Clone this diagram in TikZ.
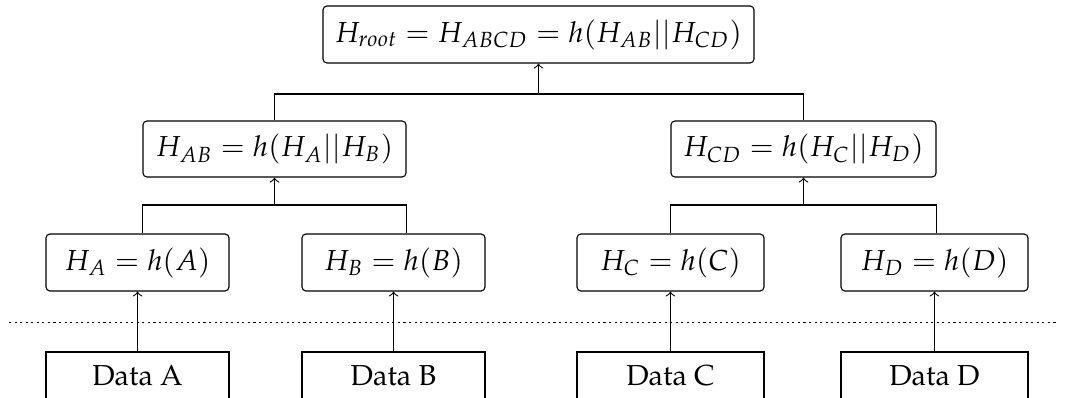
\documentclass[tikz,border=0pt]{standalone}
\usepackage[T1]{fontenc}
\usepackage{mathpazo}
\begin{document}
\begin{tikzpicture}[x=0.36pt,y=-0.36pt,
  font=\fontsize{10.4pt}{12.5pt}\selectfont,
  hashbox/.style={draw, rounded corners=1.4pt, inner sep=0pt, minimum height=20.5pt},
  databox/.style={draw, inner sep=0pt, minimum height=17.28pt},
  link/.style={->, line width=0.4pt},
  fork/.style={line width=0.4pt},
  sep/.style={line width=0.7pt, dash pattern=on 0.75pt off 1.25pt}]
\useasboundingbox (0,0) rectangle (1065,398);
% hash nodes
\node[hashbox, minimum width=155.16pt] (root) at (538.5,34.5) {$H_{root} = H_{ABCD} = h(H_{AB}||H_{CD})$};
\node[hashbox, minimum width=94.68pt, minimum height=20.16pt] (AB) at (274.5,149) {$H_{AB} = h(H_A||H_B)$};
\node[hashbox, minimum width=95.4pt, minimum height=20.16pt] (CD) at (803.5,149) {$H_{CD} = h(H_C||H_D)$};
\node[hashbox, minimum width=65.88pt] (A) at (137.5,262.5) {$H_A = h(A)$};
\node[hashbox, minimum width=65.88pt] (B) at (393.5,262.5) {$H_B = h(B)$};
\node[hashbox, minimum width=67.32pt] (C) at (670.5,262.5) {$H_C = h(C)$};
\node[hashbox, minimum width=67.32pt] (D) at (934.5,262.5) {$H_D = h(D)$};
% data nodes
\node[databox, minimum width=65.88pt] (dA) at (137.5,376) {Data A};
\node[databox, minimum width=65.88pt] (dB) at (393.5,376) {Data B};
\node[databox, minimum width=67.32pt] (dC) at (670.5,376) {Data C};
\node[databox, minimum width=67.32pt] (dD) at (934.5,376) {Data D};
% separator
\coordinate (sl) at (9,322.5);
\coordinate (sr) at (1057,322.5);
\draw[sep] (sl) -- (sr);
% data to leaf hashes
\draw[link] (dA.north) -- (A.south);
\draw[link] (dB.north) -- (B.south);
\draw[link] (dC.north) -- (C.south);
\draw[link] (dD.north) -- (D.south);
% forks
\coordinate (fAB) at (274.5,205);
\coordinate (fCD) at (803.5,205);
\coordinate (fR) at (538.5,94);
\draw[fork] (AB.south west |- A.north) -- (AB.south west |- fAB) -- (AB.south east |- fAB) -- (AB.south east |- B.north);
\draw[link] (fAB) -- (AB.south);
\draw[fork] (CD.south west |- C.north) -- (CD.south west |- fCD) -- (CD.south east |- fCD) -- (CD.south east |- D.north);
\draw[link] (fCD) -- (CD.south);
\draw[fork] (AB.north) -- (AB.north |- fR) -- (CD.north |- fR) -- (CD.north);
\draw[link] (fR) -- (root.south);
\end{tikzpicture}
\end{document}
